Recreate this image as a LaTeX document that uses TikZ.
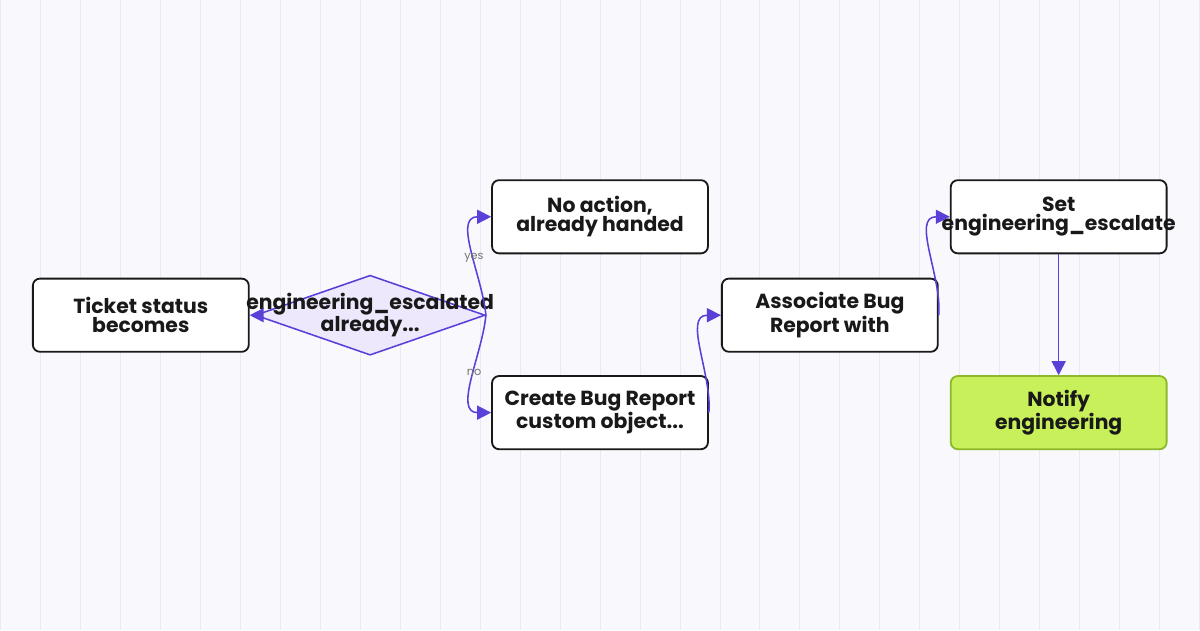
\documentclass[tikz,border=0pt]{standalone}
\usepackage{fontspec}
\setmainfont{Poppins}
\usetikzlibrary{arrows.meta,shapes.geometric,positioning}
\definecolor{edge}{HTML}{5B3FD9}
\definecolor{dfill}{HTML}{EDE8FB}
\definecolor{gfill}{HTML}{C8F05A}
\definecolor{gline}{HTML}{8CB82A}
\definecolor{bg}{HTML}{F9F8FC}
\definecolor{grid}{HTML}{ECE9F6}
\tikzset{
  box/.style={draw=black!90, line width=1.3pt, rounded corners=5pt, fill=white,
    minimum width=5.4cm, minimum height=1.83cm, inner sep=0pt},
  txt/.style={font=\bfseries\fontsize{14.5}{13.5}\selectfont, align=center, text=black!90},
  flow/.style={draw=edge, line width=1.1pt, -{Triangle[length=10pt,width=10pt]}},
  lab/.style={font=\fontsize{8}{9}\selectfont, text=black!55}
}
\begin{document}
\begin{tikzpicture}[x=0.025cm,y=-0.025cm]
\fill[bg] (0,0) rectangle (1200,630);
\draw[grid,line width=0.6pt] (0,0) grid[step=40] (1200,630);
\useasboundingbox (0,0) rectangle (1200,630);
\node[box] (tick) at (140.5,315) {};
\node[txt] at (tick) {Ticket status\\becomes};
\node[draw=edge, fill=dfill, line width=1.1pt, diamond, aspect=2.9,
  minimum width=5.75cm, minimum height=2cm, inner sep=0pt] (dia) at (370,315) {};
\node[txt] at (dia) {engineering\_escalated\\already...};
\node[box] (noact) at (600,216.5) {};
\node[txt] at (noact) {No action,\\already handed};
\node[box] (create) at (600,412.5) {};
\node[txt] at (create) {Create Bug Report\\custom object...};
\node[box] (assoc) at (830,315) {};
\node[txt] at (assoc) {Associate Bug\\Report with};
\node[box] (set) at (1059,216.5) {};
\node[txt] at (set) {Set\\engineering\_escalate};
\node[box, fill=gfill, draw=gline] (notify) at (1059,412.5) {};
\node[txt] at (notify) {Notify\\engineering};
% connectors
\draw[flow] (dia.west) -- (tick.east);
\draw[flow] (dia.east) to[out=95,in=180] node[lab,pos=0.45] {yes} (noact.west);
\draw[flow] (dia.east) to[out=-95,in=180] node[lab,pos=0.45] {no} (create.west);
\draw[flow] (create.east) to[out=85,in=180] (assoc.west);
\draw[flow] (assoc.east) to[out=85,in=180] (set.west);
\draw[flow] (set.south) -- (notify.north);
\end{tikzpicture}
\end{document}
